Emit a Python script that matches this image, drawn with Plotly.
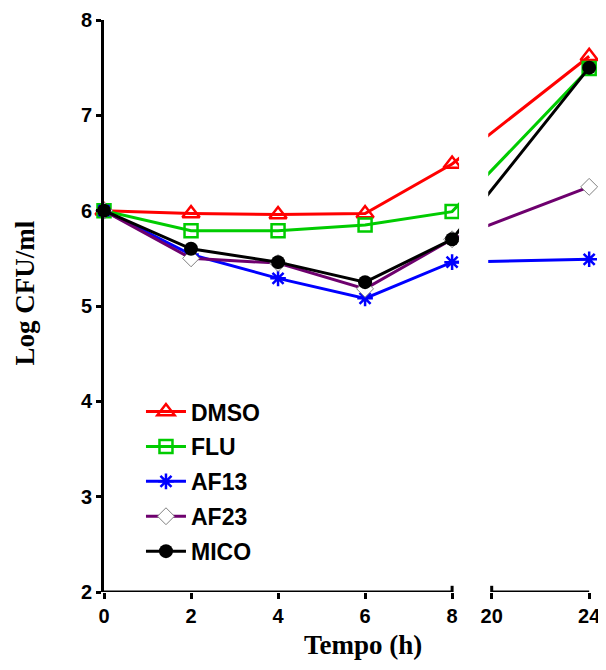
import plotly.graph_objects as go

# time points (h) and log CFU/ml per treatment
hours = [0, 2, 4, 6, 8, 24]
dmso = [6.0, 5.97, 5.96, 5.97, 6.49, 7.62]
flu = [6.0, 5.79, 5.79, 5.85, 5.99, 7.49]
af13 = [6.0, 5.54, 5.29, 5.08, 5.46, 5.49]
af23 = [6.0, 5.5, 5.45, 5.18, 5.7, 6.25]
mico = [6.0, 5.6, 5.46, 5.25, 5.7, 7.5]

x_ticks = [0, 2, 4, 6, 8, 20, 24]

# broken x axis: 0-8 then 20-24 on a compressed scale
BREAK_FROM = 8
BREAK_TO = 20
BREAK_POS = 8.91
SCALE2 = 0.56


def to_pos(h):
    if h <= BREAK_FROM:
        return h
    return BREAK_POS + (h - BREAK_TO) * SCALE2


xs = [to_pos(h) for h in hours]

series = [
    ("DMSO", dmso, "#ff0000", dict(symbol="triangle-up-open", size=15, color="#ff0000", line=dict(width=2.5, color="#ff0000"))),
    ("FLU", flu, "#00cc00", dict(symbol="square-open", size=13, color="#00cc00", line=dict(width=2.5, color="#00cc00"))),
    ("AF13", af13, "#0000ff", dict(symbol="asterisk-open", size=13, color="#0000ff", line=dict(width=2.5, color="#0000ff"))),
    ("AF23", af23, "#6e006e", dict(symbol="diamond", size=13, color="white", line=dict(width=1, color="#808080"))),
    ("MICO", mico, "#000000", dict(symbol="circle", size=14, color="#000000", line=dict(width=0))),
]

fig = go.Figure()
for name, vals, col, mk in series:
    fig.add_trace(go.Scatter(
        x=xs, y=vals, name=name, mode="lines+markers",
        line=dict(color=col, width=3),
        marker=mk, cliponaxis=False, legendgroup=name,
    ))

x_max = 11.33
gap_lo = to_pos(BREAK_FROM) + 0.16
gap_hi = BREAK_POS - 0.08
axis_line = dict(color="black", width=3)

shapes = [
    # hide the lines inside the axis break
    dict(type="rect", xref="x", yref="paper", x0=gap_lo, x1=gap_hi, y0=-0.01, y1=1.01,
         fillcolor="white", line=dict(width=0), layer="above"),
    # x axis line in two pieces
    dict(type="line", xref="x", yref="y", x0=0, x1=to_pos(8), y0=2, y1=2,
         line=axis_line, layer="above"),
    dict(type="line", xref="x", yref="y", x0=to_pos(20), x1=to_pos(24), y0=2, y1=2,
         line=axis_line, layer="above"),
    # end caps at the break
    dict(type="line", xref="x", yref="y", x0=to_pos(8), x1=to_pos(8), y0=2, y1=2.065,
         line=axis_line, layer="above"),
    dict(type="line", xref="x", yref="y", x0=to_pos(20), x1=to_pos(20), y0=2, y1=2.065,
         line=axis_line, layer="above"),
]

tick_font = dict(family="Liberation Sans, Arial", size=20, color="black", weight="bold")
legend_font = dict(family="Liberation Sans, Arial", size=23, color="black", weight="bold")
title_font = dict(family="Liberation Serif, Times New Roman", size=27, color="black", weight="bold")

annotations = [
    dict(text="Log CFU/ml", xref="paper", yref="paper", x=-0.160, y=0.522,
         textangle=-90, showarrow=False, font=title_font, xanchor="center", yanchor="middle"),
    dict(text="Tempo (h)", xref="paper", yref="paper", x=0.525, y=-0.093,
         showarrow=False, font=title_font, xanchor="center", yanchor="middle"),
]

fig.update_layout(
    width=598, height=654,
    margin=dict(l=96, r=9, t=12, b=70, autoexpand=False),
    plot_bgcolor="white", paper_bgcolor="white",
    shapes=shapes,
    annotations=annotations,
    showlegend=True,
    legend=dict(
        x=0.075, y=0.353, xanchor="left", yanchor="top",
        font=legend_font, bgcolor="rgba(0,0,0,0)",
        tracegroupgap=2, itemwidth=40,
    ),
)

fig.update_xaxes(
    range=[0, x_max],
    tickvals=[to_pos(h) for h in x_ticks],
    ticktext=[str(h) for h in x_ticks],
    ticks="outside", ticklen=6, tickwidth=3, tickcolor="black",
    showline=False, showgrid=False, zeroline=False,
    tickfont=tick_font, ticklabeloverflow="allow", automargin=False,
)
fig.update_yaxes(
    range=[2, 8],
    tickvals=[2, 3, 4, 5, 6, 7, 8],
    ticks="outside", ticklen=5, tickwidth=3, tickcolor="black",
    showline=True, linewidth=3, linecolor="black",
    showgrid=False, zeroline=False,
    tickfont=tick_font, automargin=False,
)

fig.write_html("out.html")
